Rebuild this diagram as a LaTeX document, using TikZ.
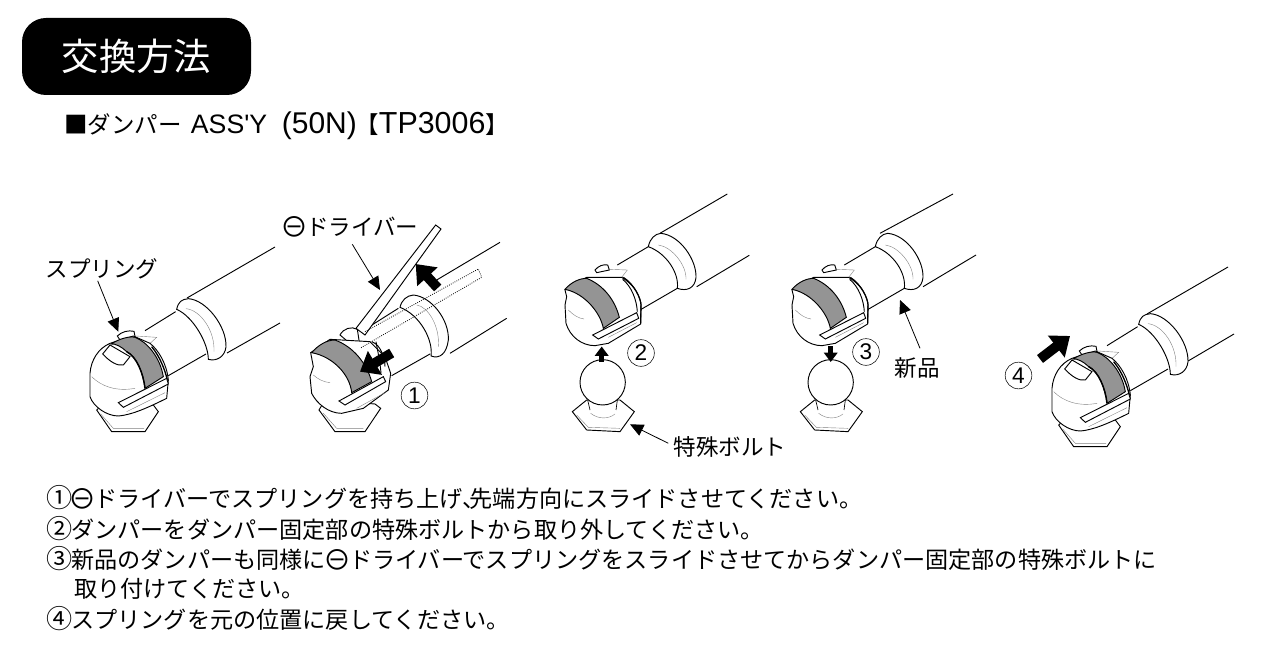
\documentclass[tikz,border=0pt]{standalone}
\usepackage{fontspec}
\setmainfont{Noto Sans CJK JP}
\newfontfamily\latinfont{Liberation Sans}
\newcommand{\slotmark}{\makebox[1em]{\fontsize{21pt}{20pt}\selectfont\raisebox{-0.07em}{⊖}}}
\newcommand{\stepmark}[1]{\makebox[1em]{\fontsize{19.6pt}{20pt}\selectfont #1}}
\usetikzlibrary{positioning, arrows.meta}

\begin{document}
\begin{tikzpicture}[
    x=0.75pt, y=-0.75pt,
    body/.style={
        anchor=west,
        inner sep=0pt,
        font=\fontsize{17.35pt}{20pt}\selectfont
    },
    callout/.style={
        inner sep=1pt,
        font=\fontsize{16.9pt}{20pt}\selectfont
    },
    numcircle/.style={
        draw,
        circle,
        thin,
        inner sep=0pt,
        minimum size=20pt,
        font=\latinfont\fontsize{17pt}{18pt}\selectfont
    },
    pointer/.style={
        -{Triangle[length=10pt,width=9pt]},
        semithick
    },
    pusharrow/.style={
        -{Triangle[length=13pt,width=20pt]},
        line width=7.4pt
    },
    smallarrow/.style={
        -{Triangle[length=7pt,width=10pt]},
        line width=3.4pt
    },
    outline/.style={
        draw,
        fill=white,
        line width=0.7pt
    },
    fineline/.style={
        draw=black!50,
        line width=0.3pt
    },
    springband/.style={
        draw,
        fill=black!42,
        line width=0.7pt
    },
    pics/frontdamper/.style={code={
        \begin{scope}[scale=1/3]
        % collar and small rod
        \draw[line width=0.7pt] (437,305) -- (345,362);
        \draw[line width=0.7pt] (528,432) -- (415,497);
        \path[outline] (440,298) .. controls (445,275) and (455,268) .. (475,266)
            .. controls (530,270) and (590,350) .. (588,410)
            .. controls (585,440) and (560,455) .. (535,448)
            .. controls (535,400) and (490,320) .. (440,298) -- cycle;
        \draw[fineline] (468,296) .. controls (510,300) and (555,360) .. (552,425);
        % clip at the top
        \path[outline] (262,378) .. controls (275,365) and (295,360) .. (312,364)
            -- (316,384) -- (270,390) -- cycle;
        \draw[fineline] (318,378) -- (380,382) -- (358,402);
        % bolt
        \path[outline] (200,600) -- (245,665) -- (345,665) -- (385,605) -- (370,585)
            -- (220,580) -- cycle;
        \draw[fineline] (212,612) -- (250,655) -- (342,655);
        % head
        \path[outline] (240,400) .. controls (205,415) and (183,450) .. (180,490)
            -- (180,560) .. controls (190,590) and (230,618) .. (265,618)
            .. controls (300,615) and (340,600) .. (410,565)
            -- (415,510) .. controls (410,460) and (385,420) .. (360,400)
            -- (310,378) -- cycle;
        \draw[fineline] (185,500) .. controls (215,530) and (260,545) .. (315,535);
        \path[outline] (218,432) -- (240,405) -- (300,440) -- (280,465)
            .. controls (260,468) and (240,455) .. (218,432) -- cycle;
        \path[springband] (243,402) .. controls (270,385) and (300,378) .. (315,382)
            .. controls (350,395) and (390,440) .. (400,500) -- (345,535)
            .. controls (340,490) and (320,440) .. (290,425)
            .. controls (275,410) and (255,400) .. (243,402) -- cycle;
        \draw[line width=1.1pt] (290,425) .. controls (320,440) and (340,490) .. (345,535);
        \draw[line width=1pt] (365,410) .. controls (390,440) and (405,480) .. (412,510);
        % slot
        \path[outline] (265,578) -- (410,505) -- (415,522) -- (280,592) -- cycle;
        \draw[fineline] (290,605) -- (405,548);
        \end{scope}
    }},
    pics/backdamper/.style={code={
        \begin{scope}[scale=1/3]
        \draw[line width=0.7pt] (325,170) -- (232,225);
        \draw[line width=0.7pt] (412,295) -- (300,360);
        \path[outline] (325,170) .. controls (330,145) and (345,132) .. (362,130)
            .. controls (420,135) and (470,210) .. (468,262)
            .. controls (465,295) and (440,305) .. (412,295)
            .. controls (418,250) and (380,190) .. (325,170) -- cycle;
        \draw[fineline] (355,165) .. controls (395,170) and (440,225) .. (438,268);
        % clip at the top
        \path[outline] (165,240) .. controls (175,228) and (190,222) .. (203,225)
            -- (208,240) -- (170,248) -- cycle;
        \draw[fineline] (208,238) -- (262,240) -- (245,262);
        % head
        \path[outline] (75,300) -- (80,320) -- (75,345) -- (78,400)
            .. controls (90,440) and (125,467) .. (165,467)
            -- (205,460) -- (302,402) -- (303,340)
            .. controls (295,305) and (275,280) .. (245,262)
            -- (140,262) -- cycle;
        \draw[fineline] (85,360) .. controls (100,375) and (115,385) .. (132,387);
        \path[springband] (75,298) .. controls (95,275) and (120,265) .. (140,265)
            .. controls (190,285) and (225,330) .. (238,382) -- (190,415)
            .. controls (182,370) and (135,310) .. (75,298) -- cycle;
        % fork of the clip
        \draw[line width=0.7pt] (248,268) .. controls (275,290) and (290,330) .. (292,365);
        \draw[line width=0.9pt] (250,262) .. controls (285,285) and (302,325) .. (303,345) -- (302,400);
        \path[outline] (158,435) -- (290,368) -- (296,385) -- (175,447) -- cycle;
        \draw[fineline] (205,442) -- (290,398);
        \end{scope}
    }},
    pics/ballbolt/.style={code={
        \begin{scope}[scale=1/3]
        \path[outline] (97,665) -- (140,720) -- (240,725) -- (283,665) -- (240,630) -- (140,630) -- cycle;
        \draw[fineline] (110,675) -- (145,712) -- (240,715);
        \draw[fineline] (152,670) .. controls (175,688) and (205,688) .. (225,672);
        \draw[line width=0.5pt] (143,630) -- (150,660);
        \draw[line width=0.5pt] (232,630) -- (228,660);
        \path[outline] (188,577) circle (68);
        \end{scope}
    }}
]
\useasboundingbox (0,0) rectangle (1277,645);

% heading
\node[fill=black, text=white, rounded corners=18pt, minimum width=171.75pt, minimum height=57.75pt,
    inner sep=0pt, font=\fontsize{28pt}{30pt}\selectfont] (title) at (136.5,56.5) {\raisebox{-1pt}{交換方法}};
\node[body, font=\fontsize{17.6pt}{20pt}\selectfont] (subtitle) at (64,126)
    {■ダンパー\hspace{7pt}{\latinfont\fontsize{20pt}{20pt}\selectfont ASS'Y\hspace{11pt}\fontsize{22.5pt}{20pt}\selectfont (50N)}\hspace{-1pt}【{\latinfont\fontsize{22.8pt}{20pt}\selectfont TP3006}】};

% figure with the spring in place
\draw[line width=0.7pt] (275,247) -- (187,298);
\draw[line width=0.7pt] (280,323) -- (227,353);
\pic at (30,210) {frontdamper};
\node[callout] (springlabel) at (102,269) {スプリング};
\coordinate (springtip) at (118.3,331.7);
\draw[pointer] (springlabel.250) -- (springtip);

% figure with the driver
\begin{scope}[shift={(270,200)}, scale=1/3]
\draw[line width=0.7pt] (690,127) -- (500,240);
\draw[line width=0.7pt] (710,355) -- (540,460);
\draw[line width=0.7pt] (480,462) -- (365,527);
\draw[line width=0.7pt] (385,325) -- (290,385);
\path[outline] (390,322) .. controls (395,300) and (410,287) .. (430,285)
    .. controls (485,290) and (538,360) .. (535,420)
    .. controls (530,460) and (510,478) .. (483,468)
    .. controls (490,420) and (450,345) .. (390,322) -- cycle;
\draw[fineline] (440,315) .. controls (475,320) and (510,380) .. (505,440);
% clip behind the spring
\path[outline] (210,405) .. controls (220,385) and (245,378) .. (262,388)
    -- (270,440) -- (240,430) -- cycle;
\path[outline] (147,630) -- (195,695) -- (285,695) -- (332,625) -- (315,612) -- (165,600) -- cycle;
\draw[fineline] (160,640) -- (200,685) -- (280,685);
\path[outline] (122,458) -- (130,500) -- (120,530) -- (125,580)
    .. controls (140,610) and (175,640) .. (215,640)
    -- (280,625) -- (355,570) -- (362,520) -- (345,470)
    -- (300,425) -- (180,418) -- cycle;
\draw[fineline] (130,525) .. controls (145,538) and (160,546) .. (180,548);
\draw[line width=0.7pt] (305,425) .. controls (335,435) and (345,480) .. (345,500);
\draw[line width=0.7pt] (318,425) .. controls (322,450) and (330,480) .. (333,520);
\path[springband] (125,458) .. controls (145,435) and (170,420) .. (195,420)
    .. controls (250,440) and (290,490) .. (305,545) -- (245,578)
    .. controls (240,525) and (190,470) .. (125,458) -- cycle;
\path[outline] (207,603) -- (340,530) -- (347,545) -- (225,615) -- cycle;
\draw[fineline] (260,625) -- (345,578);
% driver, solid and hidden part
\path[outline] (258,385) -- (497,75) -- (513,87) -- (285,405) -- cycle;
\draw[line width=0.6pt, densely dotted] (285,395) -- (625,207) -- (635,232) -- (270,445);
\end{scope}
\node[callout] (driverlabel) at (351,227) {\slotmark ドライバー};
\coordinate (drivertip) at (380,290);
\coordinate (driverstart) at (352.3,244.3);
\draw[pointer] (driverstart) -- (drivertip);
\coordinate (slidestart) at (437.7,288);
\coordinate (slidetip) at (415.7,264);
\draw[pusharrow] (slidestart) -- (slidetip);
\coordinate (liftstart) at (391.7,353);
\coordinate (lifttip) at (360,371.7);
\draw[pusharrow] (liftstart) -- (lifttip);
\node[numcircle] (numone) at (414.5,395.5) {1};

% figure with the damper taken off
\draw[line width=0.7pt] (727.3,194) -- (660,233.3);
\draw[line width=0.7pt] (749.3,255.3) -- (696.7,286.7);
\pic at (540,190) {backdamper};
\pic at (540,190) {ballbolt};
\coordinate (offstart) at (601.7,362);
\coordinate (offtip) at (601.7,346.5);
\draw[smallarrow] (offstart) -- (offtip);
\node[numcircle] (numtwo) at (641,353) {2};
\node[callout] (boltlabel) at (730,447) {特殊ボルト};
\coordinate (bolttip) at (630,424.3);
\coordinate (boltstart) at (668.3,443.3);
\draw[pointer] (boltstart) -- (bolttip);

% figure with the new damper
\draw[line width=0.7pt] (953,194) -- (880,233.3);
\draw[line width=0.7pt] (976,255) -- (923,286.7);
\pic at (767,190) {backdamper};
\pic at (768,190) {ballbolt};
\coordinate (onstart) at (830.7,346);
\coordinate (ontip) at (830.7,362);
\draw[smallarrow] (onstart) -- (ontip);
\node[numcircle] (numthree) at (866,352) {3};
\node[callout] (newlabel) at (917,368) {新品};
\coordinate (newtip) at (900,300);
\coordinate (newstart) at (920,348.3);
\draw[pointer] (newstart) -- (newtip);

% figure with the spring back in place
\draw[line width=0.7pt] (1228,267) -- (1147,314);
\draw[line width=0.7pt] (1234,334) -- (1183,364);
\pic at (992,225) {frontdamper};
\coordinate (backstart) at (1040,359);
\coordinate (backtip) at (1070,336);
\draw[pusharrow] (backstart) -- (backtip);
\node[numcircle] (numfour) at (1018.5,375.5) {4};

% steps
\node[body] (stepone) at (48,498) {\stepmark{①}\slotmark ドライバーでスプリングを持ち上げ\makebox[0.3em][l]{、}先端方向にスライドさせてください。};
\node[body] (steptwo) at (48,529) {\stepmark{②}ダンパーをダンパー固定部の特殊ボルトから取り外してください。};
\node[body] (stepthree) at (48,559) {\stepmark{③}新品のダンパーも同様に\slotmark ドライバーでスプリングをスライドさせてからダンパー固定部の特殊ボルトに};
\node[body] (stepcont) at (74,589) {取り付けてください。};
\node[body] (stepfour) at (48,619) {\stepmark{④}スプリングを元の位置に戻してください。};
\end{tikzpicture}
\end{document}
